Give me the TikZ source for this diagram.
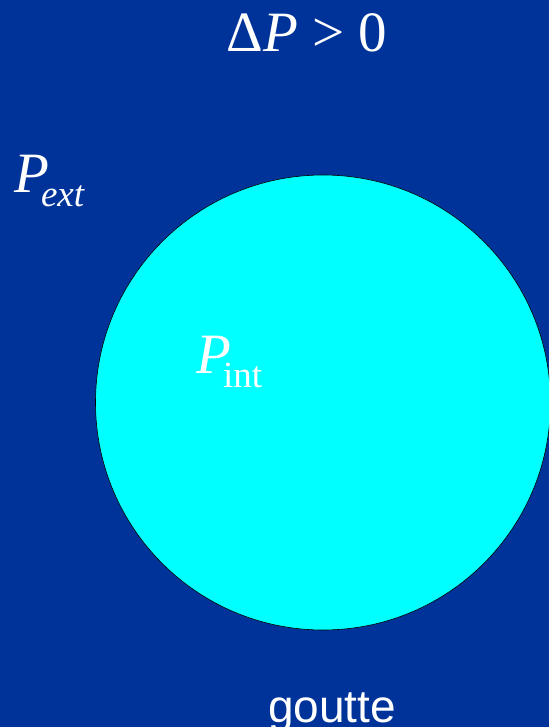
\documentclass[tikz,border=0pt]{standalone}
\usepackage{fontspec}
\setmainfont{Liberation Serif}
\newfontfamily\sansf{Liberation Sans}
\definecolor{bgblue}{HTML}{003399}
\definecolor{dropcyan}{HTML}{00FFFF}
\tikzset{
  lbl/.style={text=white, inner sep=0pt, outer sep=0pt},
  bigf/.style={font=\fontsize{57}{57}\selectfont},
  subf/.style={font=\fontsize{37}{37}\selectfont},
}
\begin{document}
\begin{tikzpicture}[x=1pt,y=-1pt]
\fill[bgblue] (0,0) rectangle (549,727);
\useasboundingbox (0,0) rectangle (549,727);
\begin{scope}
\clip (0,0) rectangle (549,727);
\node[circle, draw=black, line width=0.6pt, fill=dropcyan, minimum size=455pt, inner sep=0pt] (drop) at (323,402.5) {};
\end{scope}
\node[lbl, bigf, anchor=base] (dp) at (307,52) {Δ\textit{P} > 0};
\node[lbl, bigf, anchor=base west] (pext) at (14,193) {\textit{P}};
\node[lbl, subf, anchor=base west] (ext) at (41,207) {\textit{ext}};
\node[lbl, bigf, anchor=base west] (pint) at (196,373) {\textit{P}};
\node[lbl, subf, anchor=base west] (int) at (223,387) {int};
\node[lbl, font=\sansf\fontsize{46}{46}\selectfont, anchor=base] (goutte) at (332,722) {goutte};
\end{tikzpicture}
\end{document}
